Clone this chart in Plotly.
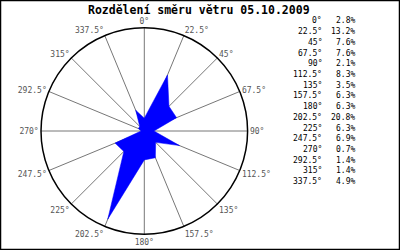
import plotly.graph_objects as go

directions = [0, 22.5, 45, 67.5, 90, 112.5, 135, 157.5, 180, 202.5, 225, 247.5, 270, 292.5, 315, 337.5]
dir_labels = ["0°", "22.5°", "45°", "67.5°", "90°", "112.5°", "135°", "157.5°", "180°",
              "202.5°", "225°", "247.5°", "270°", "292.5°", "315°", "337.5°"]
percent = [2.8, 13.2, 7.6, 7.6, 2.1, 8.3, 3.5, 6.3, 6.3, 20.8, 6.3, 6.9, 0.7, 1.4, 1.4, 4.9]
title_text = "Rozdělení směru větru 05.10.2009"

W, H = 400, 250
MONO = "DejaVu Sans Mono"

fig = go.Figure()
fig.add_trace(go.Scatterpolar(
    r=percent + [percent[0]],
    theta=directions + [directions[0]],
    mode="lines",
    fill="toself",
    fillcolor="#0000ff",
    line=dict(color="#0000ff", width=0.5),
    hoverinfo="skip",
    showlegend=False,
))

cx, cy, rad = 144.3, 131, 103.3
fig.update_layout(
    width=W, height=H,
    margin=dict(l=0, r=0, t=0, b=0),
    paper_bgcolor="white",
    plot_bgcolor="white",
    showlegend=False,
    polar=dict(
        domain=dict(x=[(cx - rad) / W, (cx + rad) / W],
                    y=[1 - (cy + rad) / H, 1 - (cy - rad) / H]),
        bgcolor="white",
        radialaxis=dict(visible=False, range=[0, 22.5], showgrid=False),
        angularaxis=dict(
            direction="clockwise", rotation=90,
            tickmode="array", tickvals=directions, ticktext=dir_labels,
            showgrid=True, gridcolor="#777777", gridwidth=1,
            showline=True, linecolor="black", linewidth=1.5,
            ticks="", tickfont=dict(family=MONO, size=8, color="#555555"),
        ),
    ),
)

fig.add_annotation(x=198.5 / W, y=1 - 0.5 / H, xref="paper", yref="paper",
                   text="<b>%s</b>" % title_text, showarrow=False,
                   xanchor="center", yanchor="top",
                   font=dict(family=MONO, size=11.5, color="black"))

row0, step = 21, 10.7
for i, (lab, p) in enumerate(zip(dir_labels, percent)):
    y = 1 - (row0 + i * step) / H
    fig.add_annotation(x=324 / W, y=y, xref="paper", yref="paper", text=lab,
                       showarrow=False, xanchor="right", yanchor="middle",
                       font=dict(family=MONO, size=8, color="black"))
    fig.add_annotation(x=357 / W, y=y, xref="paper", yref="paper", text="%.1f%%" % p,
                       showarrow=False, xanchor="right", yanchor="middle",
                       font=dict(family=MONO, size=8, color="black"))

fig.add_shape(type="rect", xref="paper", yref="paper", x0=0, y0=0, x1=1, y1=1,
              line=dict(color="black", width=2.5), fillcolor="rgba(0,0,0,0)")

fig.write_html("out.html")
